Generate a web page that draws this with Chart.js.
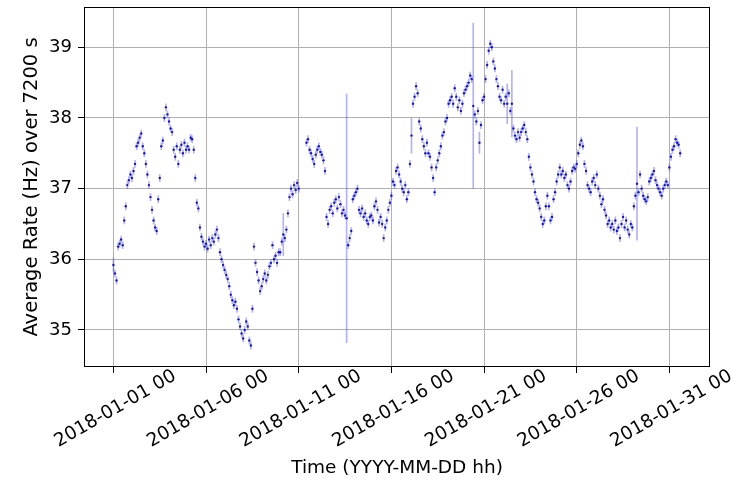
<!DOCTYPE html>
<html><head><meta charset="utf-8">
<script src="https://cdn.jsdelivr.net/npm/chart.js@4/dist/chart.umd.min.js"></script>
<style>html,body{margin:0;padding:0;background:#fff}#wrap{width:744px;height:484px}</style>
</head><body><div id="wrap"><canvas id="c" width="744" height="484"></canvas></div>
<script>
// Rates in 2-hour (7200 s) bins starting 2018-01-01 00, one row per day
const stepHours = 2;
const rate = [
  35.92, 35.8, 35.7, 36.18, 36.22, 36.28, 36.2, 36.55, 36.75, 37.05, 37.12, 37.2,
  37.15, 37.25, 37.35, 37.6, 37.65, 37.72, 37.78, 37.6, 37.5, 37.35, 37.2, 37.05,
  36.88, 36.7, 36.55, 36.45, 36.4, 36.85, 37.15, 37.6, 37.68, 38.0, 38.15, 38.05,
  37.95, 37.85, 37.8, 37.55, 37.45, 37.6, 37.35, 37.55, 37.62, 37.5, 37.65, 37.55,
  37.6, 37.55, 37.72, 37.7, 37.55, 37.15, 36.8, 36.72, 36.45, 36.32, 36.25, 36.18,
  36.22, 36.15, 36.28, 36.2, 36.3, 36.25, 36.35, 36.42, 36.3, 36.1, 36.0, 35.92,
  35.85, 35.78, 35.72, 35.62, 35.5, 35.42, 35.35, 35.4, 35.3, 35.15, 35.05, 34.95,
  34.88, 35.0, 35.12, 35.05, 34.85, 34.78, 35.3, 36.18, 35.95, 35.82, 35.7, 35.55,
  35.62, 35.72, 35.8, 35.7, 35.78, 35.9, 35.95, 36.2, 36.0, 36.05, 35.95, 36.1,
  36.1, 36.25, 36.35, 36.3, 36.42, 36.65, 36.88, 37.0, 36.92, 37.05, 36.98, 37.08,
  37.0, null, null, null, null, 37.65, 37.7, 37.55, 37.5, 37.42, 37.35, 37.48,
  37.55, 37.6, 37.52, 37.48, 37.4, 37.25, 36.6, 36.5, 36.7, 36.75, 36.65, 36.8,
  36.85, 36.72, 36.88, 36.78, 36.65, 36.7, 36.62, 36.58, 36.2, 36.3, 36.4, 36.85,
  36.9, 36.95, 37.0, 36.7, 36.65, 36.72, 36.6, 36.65, 36.55, 36.5, 36.6, 36.62,
  36.55, 36.75, 36.82, 36.7, 36.52, 36.6, 36.5, 36.3, 36.45, 36.55, 36.7, 36.8,
  36.9, 37.1, 37.05, 37.25, 37.3, 37.2, 37.1, 37.0, 36.95, 37.05, 36.85, 36.95,
  37.35, 37.75, 38.2, 38.3, 38.45, 38.35, 37.95, 37.85, 37.7, 37.6, 37.5, 37.65,
  37.5, 37.45, 37.3, 37.15, 36.95, 37.3, 37.4, 37.5, 37.6, 37.75, 37.8, 37.95,
  38.0, 38.2, 38.25, 38.3, 38.2, 38.42, 38.3, 38.15, 38.25, 38.1, 38.2, 38.35,
  38.4, 38.45, 38.5, 38.6, 38.55, 38.17, 38.05, 37.95, 38.1, 37.65, 37.9, 38.25,
  38.3, 38.55, 38.75, 38.95, 39.05, 39.0, 38.8, 38.7, 38.55, 38.45, 38.3, 38.25,
  38.4, 38.2, 38.3, 38.2, 38.35, 38.1, 38.2, 37.85, 37.75, 37.7, 37.8, 37.72,
  37.8, 37.85, 37.9, 37.8, 37.7, 37.45, 37.3, 37.2, 37.1, 36.95, 36.85, 36.8,
  36.72, 36.6, 36.5, 36.55, 36.75, 36.9, 36.75, 36.55, 36.6, 36.85, 36.95, 37.1,
  37.2, 37.3, 37.2, 37.25, 37.15, 37.2, 37.05, 37.0, 37.1, 37.25, 37.3, 37.28,
  37.35, 37.5, 37.62, 37.68, 37.6, 37.35, 37.25, 37.05, 37.0, 36.95, 37.1, 37.15,
  37.05, 37.2, 37.0, 36.9, 36.78, 36.85, 36.7, 36.62, 36.5, 36.55, 36.45, 36.5,
  36.42, 36.55, 36.4, 36.45, 36.3, 36.5, 36.6, 36.45, 36.55, 36.42, 36.35, 36.5,
  36.45, 36.75, 36.9, 37.07, 36.95, 37.2, 37.0, 36.9, 36.85, 36.82, 36.88, 37.1,
  37.15, 37.2, 37.25, 37.12, 37.05, 37.0, 36.95, 36.9, 37.0, 37.05, 37.1, 37.05,
  37.3, 37.45, 37.55, 37.6, 37.7, 37.65, 37.62, 37.5
];
const baseErr = 0.05;
const bigErrIndex = [0, 110, 151, 193, 233, 237, 255, 258, 339];
const bigErrValue = [0.1, 0.3, 1.76, 0.25, 1.17, 0.15, 0.28, 0.47, 0.8];
const tickHours = [0, 120, 240, 360, 480, 600, 720];
const tickLabels = ['2018-01-01 00', '2018-01-06 00', '2018-01-11 00', '2018-01-16 00', '2018-01-21 00', '2018-01-26 00', '2018-01-31 00'];
const yTicks = [35, 36, 37, 38, 39];
const xTitle = 'Time (YYYY-MM-DD hh)';
const yTitle = 'Average Rate (Hz) over 7200 s';

const pts = [], bars = [];
rate.forEach((v, i) => {
  if (v === null) return;
  const k = bigErrIndex.indexOf(i);
  const e = k >= 0 ? bigErrValue[k] : baseErr;
  pts.push({x: i * stepHours, y: v});
  bars.push({x: i * stepHours, y: [v - e, v + e]});
});

const FONT = 'DejaVu Sans';
const FS = 18.5;
const ROT = 30;
const mctx = document.createElement('canvas').getContext('2d');
mctx.font = FS + 'px "' + FONT + '"';
const lw = mctx.measureText(tickLabels[0]).width;
const rad = ROT * Math.PI / 180;
const lblOffset = (lw / 2) * Math.cos(rad) + 2;

const frame = {
  id: 'frame',
  afterDraw(chart) {
    const {ctx, chartArea: a} = chart;
    ctx.save();
    ctx.strokeStyle = '#000';
    ctx.lineWidth = 1;
    ctx.strokeRect(Math.round(a.left) + 0.5, Math.round(a.top) + 0.5, Math.round(a.right - a.left) - 1, Math.round(a.bottom - a.top) - 1);
    ctx.restore();
  }
};

new Chart(document.getElementById('c'), {
  type: 'scatter',
  data: {
    datasets: [
      {type: 'scatter', data: pts, order: 0, pointRadius: 1.2, pointBorderWidth: 0,
       pointBackgroundColor: 'rgba(10,10,160,0.9)', showLine: false},
      {type: 'bar', data: bars, order: 1, barThickness: 1, grouped: false,
       backgroundColor: 'rgba(85,85,235,0.45)', borderWidth: 0}
    ]
  },
  options: {
    responsive: false,
    animation: false,
    devicePixelRatio: 1,
    layout: {padding: {left: 0, top: 7, right: 34, bottom: 0}},
    plugins: {legend: {display: false}, tooltip: {enabled: false}},
    scales: {
      x: {
        type: 'linear', offset: false,
        min: -38.1, max: 772.6,
        afterBuildTicks: s => { s.ticks = tickHours.map(v => ({value: v})); },
        afterFit: s => { s.height = 117; s.paddingLeft = 0; s.paddingRight = 0; },
        grid: {color: '#b0b0b0', lineWidth: 1, tickLength: 6, tickColor: '#000', drawTicks: true, offset: false},
        border: {display: false},
        ticks: {autoSkip: false, minRotation: ROT, maxRotation: ROT, padding: -8, labelOffset: lblOffset,
          color: '#000', font: {family: FONT, size: FS},
          callback: (v, i) => tickLabels[i]},
        title: {display: true, text: xTitle, color: '#000', font: {family: FONT, size: 18.5}, padding: {top: 0, bottom: 5}}
      },
      y: {
        type: 'linear',
        min: 34.476, max: 39.57,
        afterBuildTicks: s => { s.ticks = yTicks.map(v => ({value: v})); },
        afterFit: s => { s.width = 84; s.paddingTop = 0; s.paddingBottom = 0; },
        grid: {color: '#b0b0b0', lineWidth: 1, tickLength: 6, tickColor: '#000', drawTicks: true},
        border: {display: false},
        ticks: {padding: 6, color: '#000', font: {family: FONT, size: 18}, callback: v => String(v)},
        title: {display: true, text: yTitle, color: '#000', font: {family: FONT, size: 19.5}, padding: {top: 20, bottom: 0}}
      }
    }
  },
  plugins: [frame]
});
</script>
</body></html>
